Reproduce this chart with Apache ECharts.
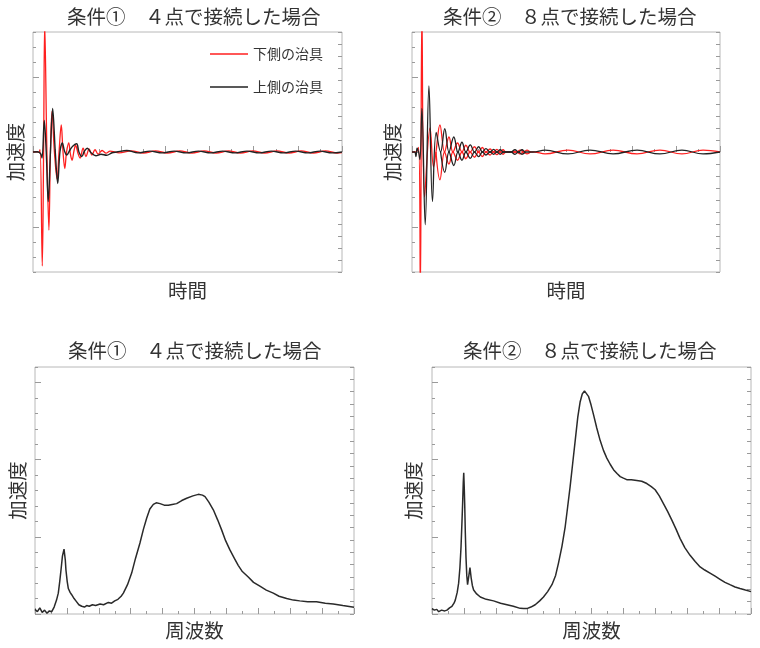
<!DOCTYPE html>
<html>
<head>
<meta charset="utf-8">
<script src="https://cdn.jsdelivr.net/npm/echarts@6/dist/echarts.min.js"></script>
<style>
html,body{margin:0;padding:0;background:#fff;}
#chart{width:760px;height:648px;}
</style>
</head>
<body>
<div id="chart"></div>
<script>
// ---- text ----
const panelTitles = ['条件①　４点で接続した場合', '条件②　８点で接続した場合'];
const seriesNames = ['下側の治具', '上側の治具'];
const timeName = '時間';
const freqName = '周波数';
const accName = '加速度';

// ---- axis extents (no tick labels are shown) ----
const timeRange = [0, 14];
const accRangeLeft = [-8, 8];
const accRangeRight = [-10, 10];
const accMajorTicks = [-5, 0, 5];
const freqRange = [0, 20];
const specRangeLeft = [0, 3.2];
const specMajorTicks = [0, 1, 2, 3];
const specRangeRight = [0, 20];

// ---- condition 1 : time response ----
const c1LowerJig = [[0,0],[0.15,0.03],[0.25,-0.03],[0.32,0.15],[0.42,-7.6],[0.48,0],[0.53,8.6],[0.63,0],[0.72,-5.2],[0.79,0],[0.86,2.7],[0.97,0],[1.09,-1.8],[1.18,0],[1.28,1.8],[1.36,0],[1.44,-1.1],[1.52,0],[1.62,0.6],[1.69,-0.1],[1.77,-0.55],[1.86,0.1],[1.93,0.45],[2.04,-0.1],[2.13,-0.4],[2.27,0.25],[2.4,-0.3],[2.54,0.2],[2.67,-0.2],[2.81,0.15],[2.95,-0.15],[3.13,0.1],[3.31,-0.08],[3.49,0.06],[3.9,-0.06],[4.45,0.07],[5.0,-0.07],[5.55,0.07],[6.1,-0.07],[6.65,0.07],[7.2,-0.07],[7.75,0.07],[8.3,-0.07],[8.85,0.07],[9.4,-0.07],[9.95,0.07],[10.5,-0.07],[11.05,0.07],[11.6,-0.07],[12.15,0.07],[12.7,-0.07],[13.25,0.07],[13.8,-0.07],[14,-0.04]];
const c1UpperJig = [[0,0],[0.2,0.02],[0.34,-0.1],[0.41,-0.4],[0.51,2.1],[0.6,0],[0.69,-3.3],[0.79,0],[0.89,2.9],[1.01,0],[1.12,-2.1],[1.22,0],[1.33,0.6],[1.43,0.05],[1.53,-0.2],[1.68,0.15],[1.81,0.4],[1.98,0.55],[2.08,0],[2.21,-0.3],[2.33,0.05],[2.46,0.25],[2.63,-0.05],[2.85,-0.25],[3.08,-0.15],[3.34,-0.22],[3.58,-0.05],[3.79,0],[4.25,0.1],[4.75,-0.06],[5.3,0.06],[5.85,-0.06],[6.4,0.06],[6.95,-0.06],[7.5,0.06],[8.05,-0.06],[8.6,0.06],[9.15,-0.06],[9.7,0.06],[10.25,-0.06],[10.8,0.06],[11.35,-0.06],[11.9,0.06],[12.45,-0.06],[13.0,0.06],[13.55,-0.06],[14,0]];

// ---- condition 2 : time response (main trace + lower envelope of the aliased lobes) ----
const c2LowerJig = [[0,0],[0.18,0],[0.3,0.3],[0.38,-9.5],[0.45,9.5],[0.57,-3.0],[0.82,1.6],[0.98,-1.0],[1.09,0],[1.27,1.8],[1.48,0],[1.68,1.0],[1.86,0],[2.07,0.6],[2.27,0],[2.45,0.45],[2.64,0],[2.84,0.35],[3.02,0],[3.2,0.3],[3.36,0],[3.55,0.2],[3.7,0],[3.86,0.18],[4.0,0],[4.14,0.15],[4.27,0],[4.75,0],[4.91,0.12],[5.07,0],[5.23,0.12],[5.39,0],[5.55,0],[6.05,-0.13],[7.09,0.13],[8.09,-0.13],[9.14,0.13],[10.23,-0.13],[11.27,0.13],[12.27,-0.13],[13.23,0.13],[14,0]];
const c2LowerJigLobes = [[1.09,0],[1.27,-1.85],[1.48,0],[1.68,-0.8],[1.86,0],[2.07,-0.55],[2.27,0],[2.45,-0.45],[2.64,0],[2.84,-0.35],[3.02,0],[3.2,-0.3],[3.36,0],[3.55,-0.2],[3.7,0],[3.86,-0.18],[4.0,0],[4.14,-0.15],[4.27,0],[4.75,0],[4.91,-0.12],[5.07,0],[5.23,-0.12],[5.39,0]];
const c2UpperJig = [[0,0],[0.12,0],[0.18,-0.3],[0.23,0.25],[0.3,0],[0.36,-0.5],[0.45,2.9],[0.6,-4.85],[0.77,4.4],[0.93,-3.3],[1.1,1.3],[1.3,0],[1.49,1.55],[1.68,0],[1.9,1.0],[2.09,0],[2.27,0.65],[2.45,0],[2.65,0.47],[2.84,0],[3.03,0.35],[3.2,0],[3.36,0.22],[3.55,0],[3.71,0.17],[3.86,0],[4.01,0.15],[4.16,0],[4.5,0],[4.68,0.15],[4.84,0],[5.0,0.15],[5.16,0],[5.5,0],[6.05,0.13],[7.09,-0.13],[8.09,0.13],[9.14,-0.13],[10.23,0.13],[11.27,-0.13],[12.27,0.13],[13.23,-0.13],[14,0]];
const c2UpperJigLobes = [[1.3,0],[1.49,-1.35],[1.68,0],[1.9,-0.9],[2.09,0],[2.27,-0.55],[2.45,0],[2.65,-0.42],[2.84,0],[3.03,-0.31],[3.2,0],[3.36,-0.2],[3.55,0],[3.71,-0.15],[3.86,0],[4.01,-0.15],[4.16,0],[4.5,0],[4.68,-0.15],[4.84,0],[5.0,-0.15],[5.16,0]];

// ---- spectra ----
const c1Spectrum = [[0,0.06],[0.15,0.03],[0.3,0.08],[0.45,0.02],[0.6,0.05],[0.75,0.01],[0.9,0.04],[1.05,0.03],[1.2,0.09],[1.35,0.18],[1.46,0.27],[1.55,0.42],[1.63,0.57],[1.72,0.75],[1.82,0.84],[1.9,0.7],[1.94,0.57],[2.02,0.42],[2.09,0.33],[2.2,0.28],[2.3,0.25],[2.45,0.2],[2.6,0.16],[2.75,0.12],[2.93,0.1],[3.1,0.09],[3.24,0.11],[3.4,0.1],[3.6,0.12],[3.8,0.11],[4.08,0.13],[4.3,0.12],[4.6,0.15],[4.8,0.14],[5.0,0.17],[5.2,0.19],[5.4,0.23],[5.54,0.27],[5.8,0.38],[6.06,0.53],[6.3,0.72],[6.58,0.92],[6.8,1.1],[7.0,1.24],[7.2,1.36],[7.42,1.42],[7.6,1.44],[7.84,1.43],[8.1,1.41],[8.36,1.41],[8.6,1.42],[8.88,1.43],[9.2,1.47],[9.51,1.5],[9.9,1.53],[10.24,1.55],[10.5,1.54],[10.66,1.52],[10.9,1.45],[11.18,1.35],[11.45,1.22],[11.7,1.09],[11.95,0.95],[12.22,0.83],[12.5,0.72],[12.74,0.63],[13.0,0.55],[13.37,0.48],[13.7,0.41],[14.1,0.36],[14.5,0.31],[14.94,0.27],[15.3,0.23],[15.78,0.2],[16.2,0.18],[16.6,0.17],[17.1,0.16],[17.65,0.16],[18.2,0.14],[18.7,0.13],[19.3,0.11],[20,0.087]];
const c2Spectrum = [[0,0.07],[0.15,0.05],[0.3,0.06],[0.42,0.03],[0.6,0.05],[0.8,0.04],[0.94,0.05],[1.1,0.08],[1.25,0.1],[1.38,0.14],[1.46,0.18],[1.58,0.28],[1.67,0.4],[1.75,0.6],[1.82,0.87],[1.88,1.2],[1.92,1.43],[1.96,1.7],[1.99,1.83],[2.02,1.65],[2.05,1.43],[2.09,1.05],[2.13,0.74],[2.18,0.5],[2.23,0.38],[2.3,0.48],[2.38,0.6],[2.46,0.46],[2.53,0.37],[2.61,0.31],[2.8,0.26],[3.03,0.22],[3.4,0.19],[3.86,0.17],[4.3,0.14],[4.7,0.12],[5.1,0.1],[5.53,0.073],[5.75,0.07],[5.95,0.07],[6.2,0.09],[6.47,0.12],[6.75,0.17],[6.99,0.22],[7.25,0.29],[7.52,0.38],[7.75,0.5],[7.93,0.66],[8.15,0.88],[8.35,1.13],[8.5,1.38],[8.66,1.65],[8.82,1.95],[8.98,2.25],[9.14,2.55],[9.29,2.75],[9.42,2.85],[9.56,2.89],[9.68,2.87],[9.81,2.82],[9.97,2.71],[10.13,2.58],[10.33,2.41],[10.54,2.25],[10.75,2.12],[10.96,2.02],[11.17,1.94],[11.38,1.87],[11.6,1.82],[11.8,1.78],[12.0,1.76],[12.21,1.74],[12.5,1.74],[12.84,1.73],[13.15,1.72],[13.47,1.69],[13.75,1.65],[13.99,1.61],[14.25,1.53],[14.51,1.43],[14.77,1.33],[15.03,1.22],[15.3,1.1],[15.55,0.98],[15.85,0.86],[16.18,0.76],[16.5,0.68],[16.81,0.61],[17.1,0.57],[17.43,0.53],[17.75,0.49],[18.06,0.45],[18.37,0.41],[18.68,0.38],[19.0,0.35],[19.31,0.33],[19.65,0.31],[20,0.29]];

// ---- styling / layout ----
const FONT = "'Noto Sans CJK JP', 'Noto Sans', sans-serif";
const TEXT = '#333';
const TICK = '#9a9a9a';
const RED = '#ff1f1f';
const BLACK = '#222';

const grids = [
  {left: 33, top: 32, width: 309, height: 240},
  {left: 412, top: 32, width: 308, height: 240},
  {left: 35, top: 367, width: 319, height: 247},
  {left: 432, top: 367, width: 319, height: 247}
].map(g => Object.assign(g, {show: true, borderColor: '#b8b8b8', borderWidth: 1, backgroundColor: 'transparent', containLabel: false, outerBoundsMode: 'none'}));

const xNameGaps = [9, 9, 7, 7];
const yNameGaps = [8, 10, 8, 9];

function tickStyle(len) {
  return {show: true, inside: true, length: len, lineStyle: {color: TICK, width: 1}};
}
const nameStyle = {fontSize: 19.5, color: TEXT, fontFamily: FONT};

const xAxes = grids.map((g, i) => {
  const r = i < 2 ? timeRange : freqRange;
  return {
    gridIndex: i, type: 'value', min: r[0], max: r[1], interval: 2,
    axisLine: {show: false}, axisLabel: {show: false}, splitLine: {show: false},
    axisTick: tickStyle(6),
    minorTick: {show: true, splitNumber: 2, length: 3, lineStyle: {color: TICK, width: 1}},
    name: i < 2 ? timeName : freqName, nameLocation: 'middle', nameGap: xNameGaps[i], nameTextStyle: nameStyle
  };
});

const yAxes = [];
grids.forEach((g, i) => {
  const top = i < 2;
  const lr = top ? accRangeLeft : specRangeLeft;
  const rr = top ? accRangeRight : specRangeRight;
  const common = {gridIndex: i, type: 'value', axisLine: {show: false}, axisLabel: {show: false}, splitLine: {show: false}};
  yAxes.push(Object.assign({}, common, {
    position: 'left', min: lr[0], max: lr[1], interval: top ? 1 : 0.2,
    axisTick: tickStyle(3),
    name: accName, nameLocation: 'middle', nameGap: yNameGaps[i], nameTextStyle: nameStyle
  }));
  yAxes.push(Object.assign({}, common, {
    position: 'left', min: lr[0], max: lr[1],
    axisTick: Object.assign(tickStyle(6), {customValues: top ? accMajorTicks : specMajorTicks})
  }));
  yAxes.push(Object.assign({}, common, {
    position: 'right', min: rr[0], max: rr[1], interval: 1,
    axisTick: tickStyle(4)
  }));
});

function lineSeries(name, data, gi, color, width, smooth) {
  return {
    name: name, type: 'line', data: data, xAxisIndex: gi, yAxisIndex: gi * 3,
    symbol: 'none', showSymbol: false, clip: true, animation: false, smooth: smooth,
    lineStyle: {color: color, width: width}, itemStyle: {color: color},
    emphasis: {disabled: true}
  };
}

const series = [
  lineSeries(seriesNames[0], c1LowerJig, 0, RED, 1.3, 0.35),
  lineSeries(seriesNames[1], c1UpperJig, 0, BLACK, 1.4, 0.35),
  lineSeries(seriesNames[0], c2LowerJig, 1, RED, 1.3, 0.4),
  lineSeries(seriesNames[0], c2LowerJigLobes, 1, RED, 1.3, 0.4),
  lineSeries(seriesNames[1], c2UpperJig, 1, BLACK, 1.3, 0.4),
  lineSeries(seriesNames[1], c2UpperJigLobes, 1, BLACK, 1.3, 0.4),
  lineSeries('スペクトル1', c1Spectrum, 2, '#2a2a2a', 1.5, false),
  lineSeries('スペクトル2', c2Spectrum, 3, '#2a2a2a', 1.5, false)
];

const titleLayout = [[67, 7], [443, 7], [68, 341], [463, 341]];
const title = titleLayout.map((p, i) => ({
  text: panelTitles[i % 2], left: p[0], top: p[1], padding: 0,
  textStyle: {fontSize: 19.5, fontWeight: 'normal', color: TEXT, fontFamily: FONT}
}));

const chart = echarts.init(document.getElementById('chart'), null, {renderer: 'canvas'});
chart.setOption({
  animation: false,
  backgroundColor: '#fff',
  title: title,
  legend: {
    data: seriesNames, orient: 'vertical', left: 205, top: 42,
    icon: 'rect', itemWidth: 38, itemHeight: 1.6, itemGap: 19,
    textStyle: {fontSize: 14, color: TEXT, fontFamily: FONT}
  },
  grid: grids,
  xAxis: xAxes,
  yAxis: yAxes,
  series: series
});
</script>
</body>
</html>
